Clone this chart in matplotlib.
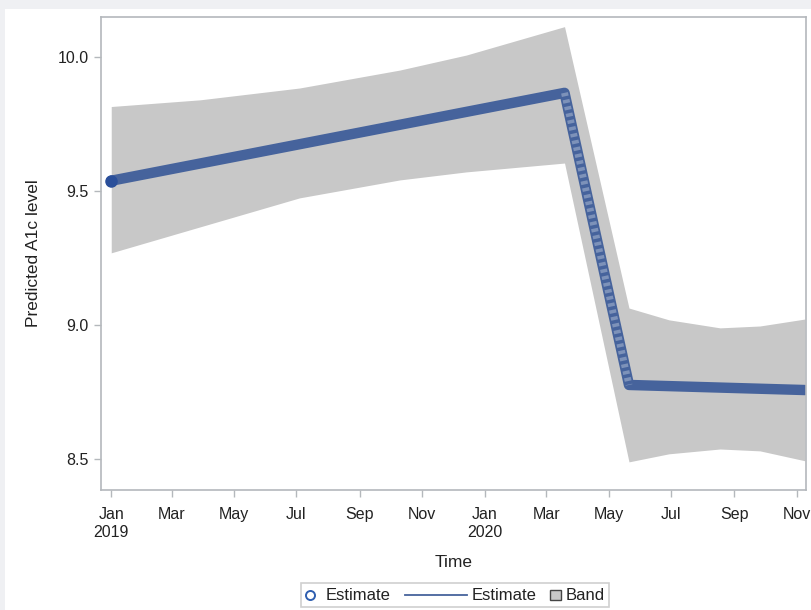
import numpy as np
import pandas as pd
import matplotlib
matplotlib.use("Agg")
import matplotlib.pyplot as plt
from matplotlib.lines import Line2D
from matplotlib.patches import Rectangle
from matplotlib.offsetbox import (AnchoredOffsetbox, DrawingArea, HPacker,
                                  TextArea)

plt.rcParams["font.family"] = ["Liberation Sans", "DejaVu Sans"]

# predicted A1c from the segmented model
est_dates = pd.to_datetime(["2019-01-01", "2020-03-19", "2020-05-21", "2020-11-09"])
est_values = [9.538, 9.866, 8.776, 8.757]

# confidence band
band_dates = pd.to_datetime([
    "2019-01-01", "2019-03-29", "2019-07-04", "2019-10-10", "2019-12-14",
    "2020-03-19", "2020-05-21", "2020-06-29", "2020-08-18", "2020-09-26",
    "2020-11-09",
])
band_upper = [9.815, 9.840, 9.884, 9.951, 10.007, 10.113,
              9.063, 9.019, 8.989, 8.996, 9.022]
band_lower = [9.269, 9.366, 9.474, 9.541, 9.571, 9.604,
              8.489, 8.519, 8.537, 8.530, 8.493]

tick_dates = pd.date_range("2019-01-01", "2020-11-01", freq="2MS")
tick_labels = ["Jan\n2019", "Mar", "May", "Jul", "Sep", "Nov",
               "Jan\n2020", "Mar", "May", "Jul", "Sep", "Nov"]
y_ticks = [8.5, 9.0, 9.5, 10.0]

line_color = "#46639c"
band_color = "#c8c8c8"
frame_color = "#b4b8bc"
text_color = "#222222"

fig = plt.figure(figsize=(8.11, 6.10), dpi=100, facecolor="#eff0f3")
fig.patches.append(Rectangle((5 / 811, 0), 1, 1 - 9 / 610, transform=fig.transFigure,
                             facecolor="white", edgecolor="none", zorder=-10))

ax = fig.add_axes([101 / 811, 1 - 490 / 610, 705 / 811, 473 / 610])
ax.fill_between(band_dates, band_lower, band_upper, color=band_color,
                linewidth=0, zorder=1)
ax.plot(est_dates, est_values, color=line_color, lw=7.5,
        solid_capstyle="round", solid_joinstyle="round", zorder=2)
# the steep part shows the individual open circles
ax.plot(est_dates[1:3], est_values[1:3], color="white", lw=5, alpha=0.3,
        dashes=(0.5, 0.5), zorder=3)
ax.plot(est_dates[:1], est_values[:1], "o", color="#2a4f9a", ms=8, zorder=4)

ax.set_xlim(pd.Timestamp("2018-12-22"), pd.Timestamp("2020-11-10"))
ax.set_ylim(8.384, 10.149)
ax.set_xticks(tick_dates)
ax.set_xticklabels(tick_labels, va="top")
ax.set_yticks(y_ticks)
ax.set_yticklabels([f"{v:.1f}" for v in y_ticks])
ax.tick_params(length=5, width=1, color=frame_color, labelsize=11.5,
               labelcolor=text_color)
ax.tick_params(axis="x", pad=7.5)
ax.tick_params(axis="y", pad=4)
for s in ax.spines.values():
    s.set_color(frame_color)
    s.set_linewidth(1.2)

ax.set_ylabel("Predicted A1c level", fontsize=12.5, color=text_color, labelpad=12)
ax.set_xlabel("Time", fontsize=12.5, color=text_color, labelpad=11)

# legend row
txt = dict(fontsize=12, color=text_color)
da_circle = DrawingArea(7.5, 7.5)
da_circle.add_artist(Line2D([3.75], [3.75], marker="o", ms=6.5, mfc="none",
                            mec="#2f5fb0", mew=1.4, ls="none"))
da_line = DrawingArea(44.6, 7.5)
da_line.add_artist(Line2D([0, 44.6], [3.75, 3.75], color=line_color, lw=1.3))
da_box = DrawingArea(7.5, 7.5)
da_box.add_artist(Rectangle((0, 0), 7.5, 7.5, facecolor=band_color,
                            edgecolor="#444444", lw=1))


def entry(handle, label, gap):
    return HPacker(children=[handle, TextArea(label, textprops=txt)],
                   align="center", pad=0, sep=gap)


row = HPacker(children=[entry(da_circle, "Estimate", 7.5),
                        entry(da_line, "Estimate", 3.5),
                        entry(da_box, "Band", 3.5)],
              align="center", pad=0, sep=10)
leg = AnchoredOffsetbox(loc="center", child=row, pad=0.3, borderpad=0,
                        frameon=True, bbox_to_anchor=(455 / 811, 1 - 595 / 610),
                        bbox_transform=fig.transFigure)
leg.patch.set_edgecolor("#d0d0d0")
leg.patch.set_linewidth(1.2)
leg.patch.set_boxstyle("square", pad=0)
fig.add_artist(leg)

fig.savefig("out.png", dpi=100, facecolor=fig.get_facecolor())
